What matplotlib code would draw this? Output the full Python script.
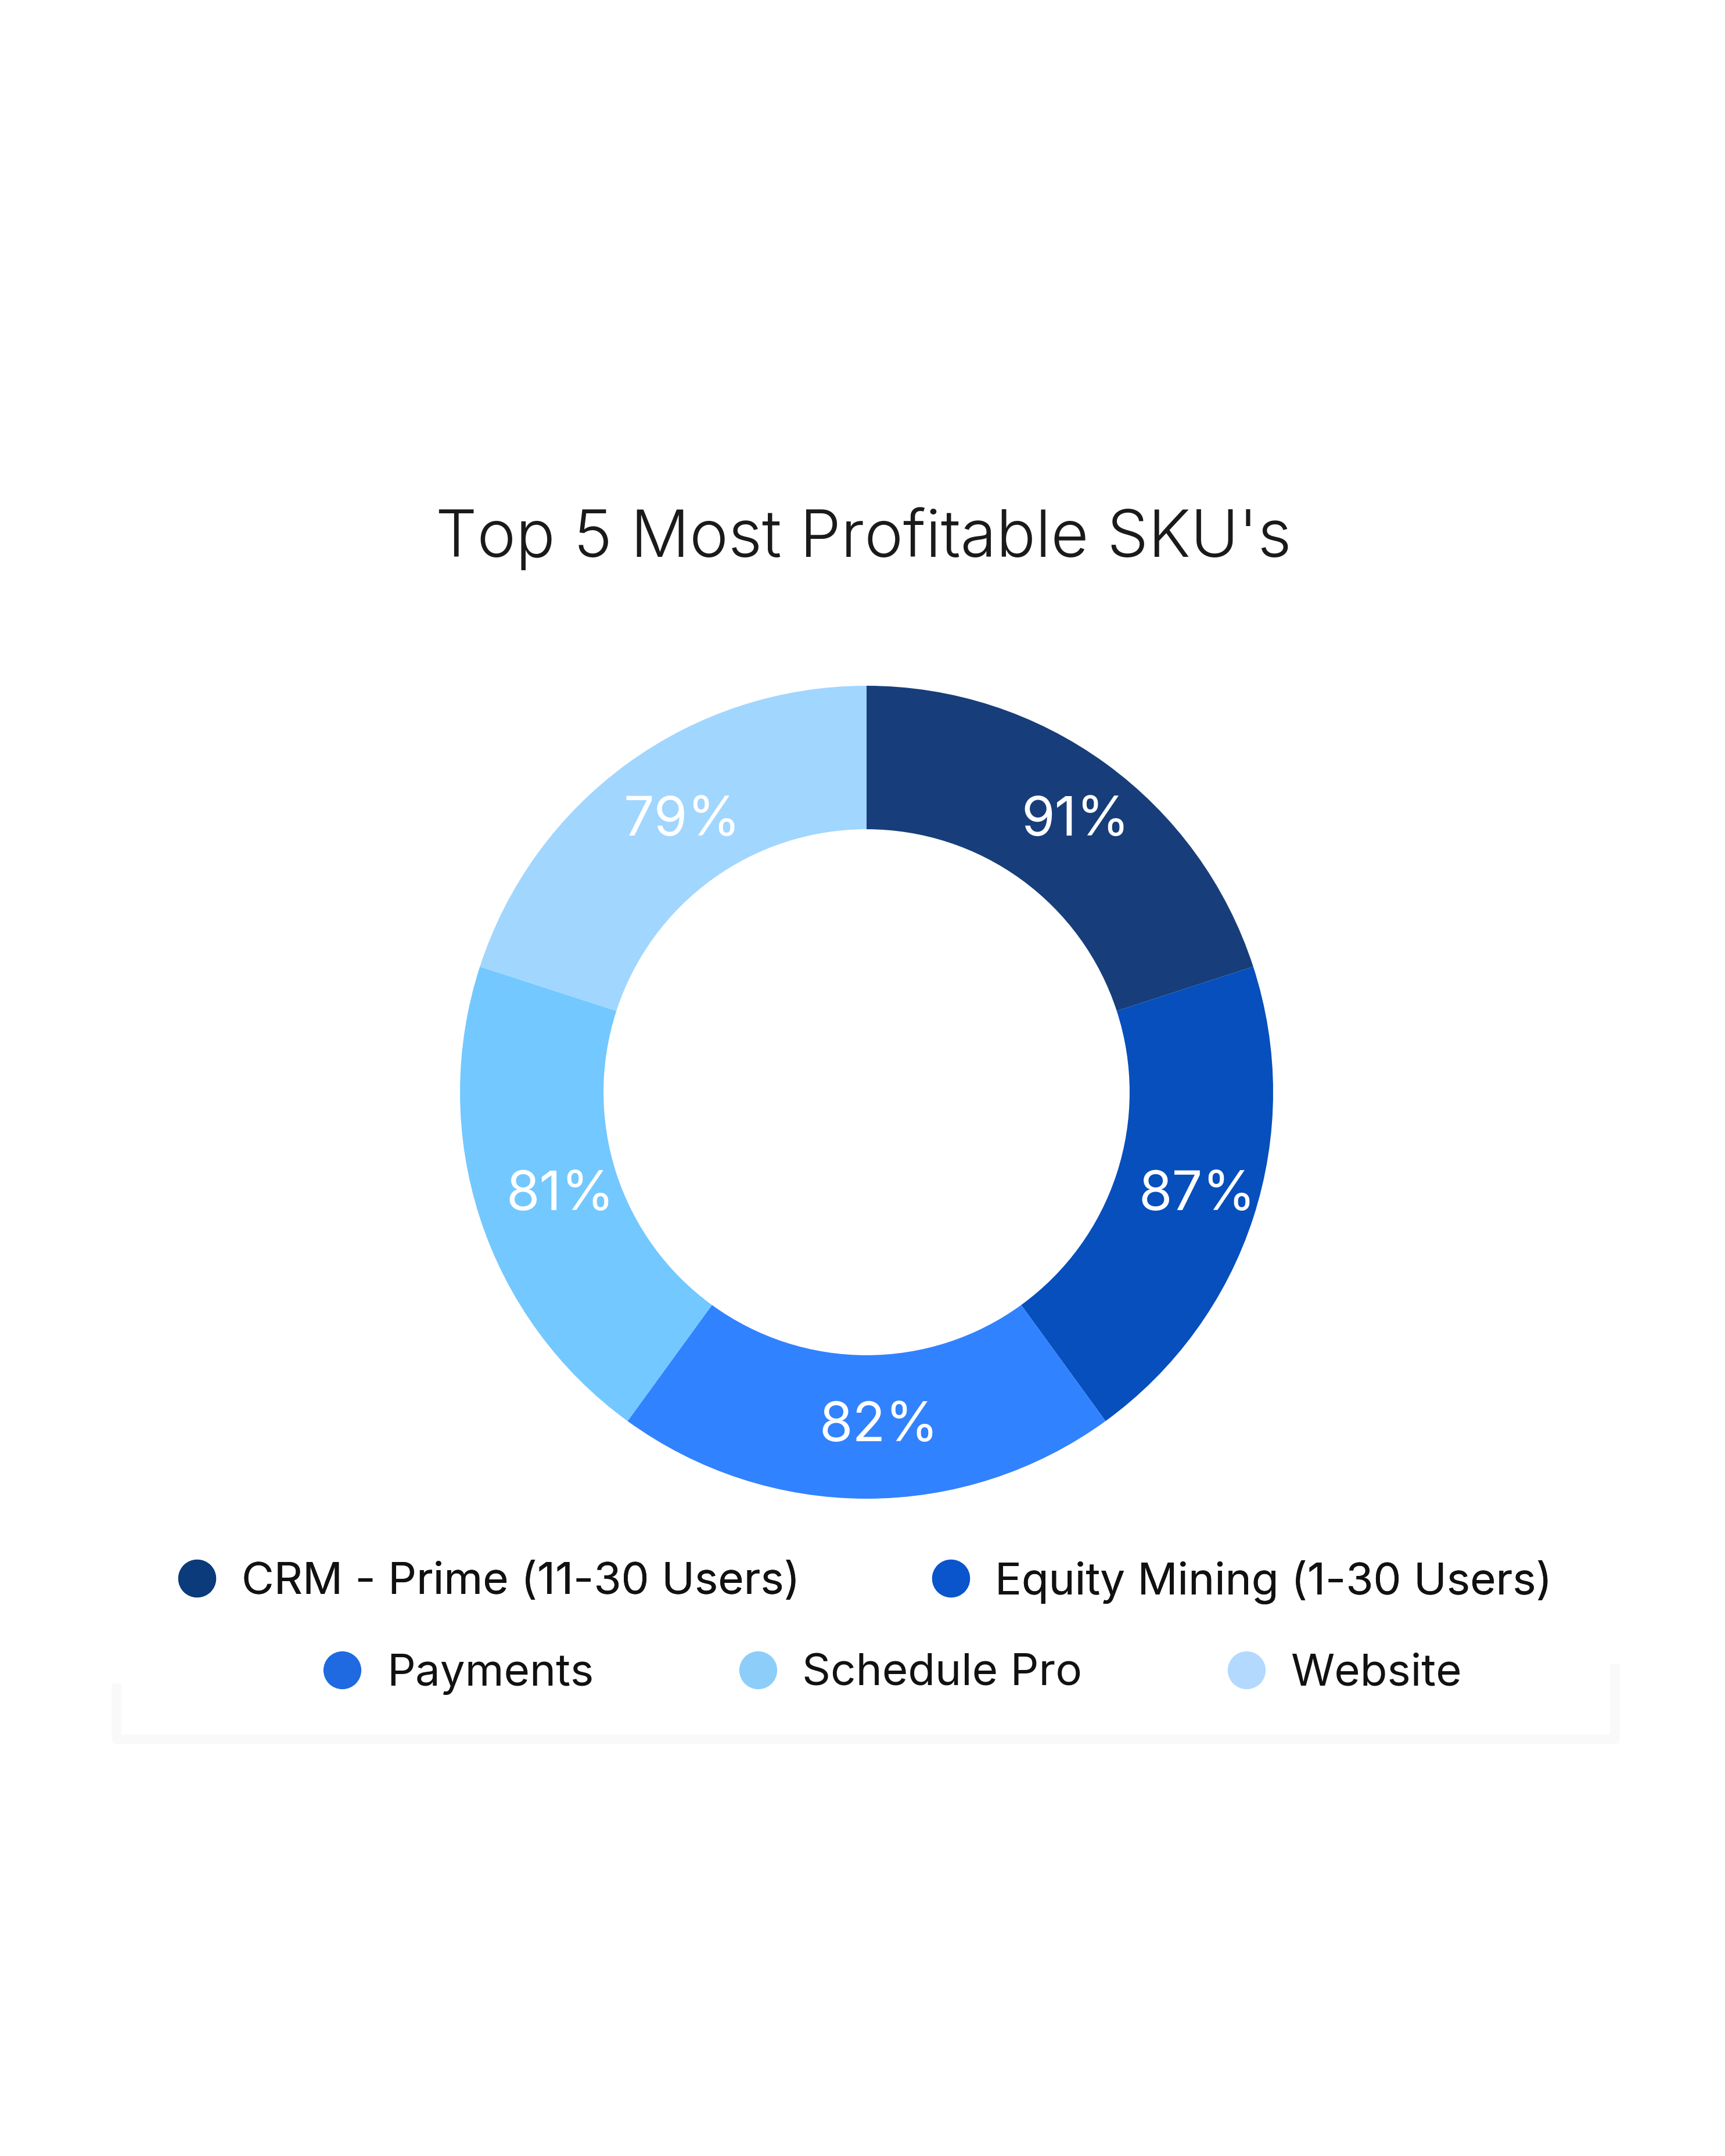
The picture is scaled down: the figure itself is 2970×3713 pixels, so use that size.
import numpy as np
import matplotlib
matplotlib.use("Agg")
import matplotlib.pyplot as plt
from matplotlib.lines import Line2D

plt.rcParams['font.family'] = ['Inter', 'DejaVu Sans']

# data
skus = ["CRM - Prime (11-30 Users)", "Equity Mining (1-30 Users)",
        "Payments", "Schedule Pro", "Website"]
margins = [91, 87, 82, 81, 79]          # shown as labels
segments = [1, 1, 1, 1, 1]              # the ring is split evenly
colors = ["#173e7a", "#064fbd", "#3182ff", "#73c8ff", "#a1d6ff"]
legend_colors = ["#0b3b7a", "#0a55cc", "#1f6ae0", "#8dcdfa", "#b3d9ff"]

W, H = 2970, 3713
fig = plt.figure(figsize=(W / 100, H / 100), dpi=100)

# donut, centre (1492, 1881) px, radius 700 px
cx, cy, R = 1492, 1881, 700
ax = fig.add_axes([(cx - R) / W, (H - cy - R) / H, 2 * R / W, 2 * R / H])
ring = 0.353
wedges, _ = ax.pie(segments, colors=colors, startangle=90, counterclock=False,
                   wedgeprops=dict(width=ring, edgecolor="none"))
ax.set_xlim(-1, 1)
ax.set_ylim(-1, 1)
ax.set_aspect("equal")
ax.axis("off")

for w, m in zip(wedges, margins):
    ang = np.deg2rad((w.theta1 + w.theta2) / 2)
    r = 1 - ring / 2
    ax.text(r * np.cos(ang) + 0.03, r * np.sin(ang), f"{m}%", color="white",
            fontsize=67, ha="center", va="center")

# title
fig.text(1487 / W, 1 - 928 / H, "Top 5 Most Profitable SKU's", fontsize=81,
         fontweight=300, color="#1a1a1a", ha="center", va="center")

# legend, two rows
handles = [Line2D([], [], linestyle="none", marker="o", markersize=47,
                  markerfacecolor=c, markeredgecolor="none", label=s)
           for c, s in zip(legend_colors, skus)]
leg1 = fig.legend(handles=handles[:2], ncol=2, loc="center",
                  bbox_to_anchor=(1487 / W, 1 - 2724 / H), frameon=False,
                  fontsize=55, handlelength=1.0, handletextpad=0.5,
                  columnspacing=2.9, labelcolor="#111111")
fig.add_artist(leg1)
fig.legend(handles=handles[2:], ncol=3, loc="center",
           bbox_to_anchor=(1534 / W, 1 - 2883 / H), frameon=False,
           fontsize=55, handlelength=1.0, handletextpad=0.5,
           columnspacing=3.2, labelcolor="#111111")

# faint card shadow below the legend
fig.add_artist(Line2D([200 / W, 200 / W, 2780 / W, 2780 / W],
                      [1 - 2907 / H, 1 - 2995 / H, 1 - 2995 / H, 1 - 2873 / H],
                      transform=fig.transFigure, color="#f9f9f9", lw=12,
                      solid_joinstyle="round"))

fig.savefig("out.png", dpi=100, facecolor="white")
